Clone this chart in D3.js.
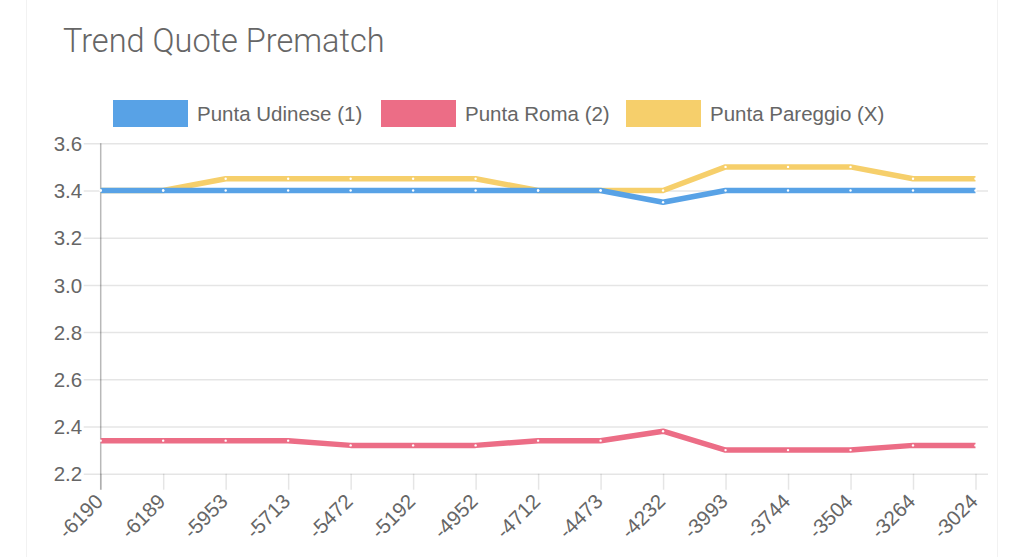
<!DOCTYPE html>
<html><head><meta charset="utf-8">
<script src="https://cdn.jsdelivr.net/npm/d3@7"></script>
<style>html,body{margin:0;padding:0;background:#fff;}svg{display:block;}</style>
</head><body>
<svg id="c" width="1024" height="557"></svg>
<script>
const categories = ["-6190","-6189","-5953","-5713","-5472","-5192","-4952","-4712","-4473","-4232","-3993","-3744","-3504","-3264","-3024"];
const udinese = [3.4,3.4,3.4,3.4,3.4,3.4,3.4,3.4,3.4,3.35,3.4,3.4,3.4,3.4,3.4];
const roma = [2.34,2.34,2.34,2.34,2.32,2.32,2.32,2.34,2.34,2.38,2.30,2.30,2.30,2.32,2.32];
const pareggio = [3.4,3.4,3.45,3.45,3.45,3.45,3.45,3.4,3.4,3.4,3.5,3.5,3.5,3.45,3.45];
const seriesNames = ["Punta Udinese (1)","Punta Roma (2)","Punta Pareggio (X)"];
const seriesColors = ["#58a2e6","#ec6d86","#f6cf6b"];
const yTicks = [2.2,2.4,2.6,2.8,3.0,3.2,3.4,3.6];
const title = "Trend Quote Prematch";

(function(){
const svg = d3.select("#c");
const font = "'Liberation Sans', Arial, sans-serif";
svg.append("rect").attr("x",26.5).attr("y",-2).attr("width",971).attr("height",570)
  .attr("fill","#fff").attr("stroke","#f2f2f2");

svg.append("text").attr("x",63).attr("y",52).text(title)
  .attr("font-family","Roboto, 'Liberation Sans', sans-serif").attr("font-weight",300)
  .attr("font-size",32.5).attr("fill","#666");

const pl = 100.7, pr = 975.5, gridRight = 988, pt = 143.3, pb = 473.7;
const x = d3.scalePoint().domain(categories).range([pl,pr]);
const y = d3.scaleLinear().domain([2.2,3.6]).range([pb,pt]);

const yAxis = d3.axisLeft(y).tickValues(yTicks).tickFormat(d3.format(".1f"))
  .tickSize(-(gridRight-pl)).tickSizeOuter(0);
const gy = svg.append("g").attr("transform",`translate(${pl},0)`).call(yAxis);
gy.select(".domain").remove();
gy.selectAll(".tick line").attr("x1",-17).attr("stroke","rgba(0,0,0,0.1)").attr("stroke-width",1.5);
gy.selectAll(".tick text").attr("font-family",font).attr("font-size",20.5).attr("fill","#666")
  .attr("x",-18.5).attr("dy","0.35em");

const xAxis = d3.axisBottom(x).tickSize(-(pb-pt)).tickSizeOuter(0).tickPadding(0);
const gx = svg.append("g").attr("transform",`translate(0,${pb})`).call(xAxis);
gx.select(".domain").remove();
gx.selectAll(".tick line").attr("y2",16).attr("stroke","rgba(0,0,0,0.1)").attr("stroke-width",1.5);
gx.selectAll(".tick text").attr("font-family",font).attr("font-size",20.5).attr("fill","#666")
  .attr("text-anchor","end").attr("dy",null).attr("y",0)
  .attr("transform","translate(3,29) rotate(-45)");

svg.append("line").attr("x1",pl).attr("x2",pl).attr("y1",pt).attr("y2",pb+16)
  .attr("stroke","rgba(0,0,0,0.28)").attr("stroke-width",1.5);

const data = [udinese, roma, pareggio];
const line = d3.line().x((d,i)=>x(categories[i])).y(d=>y(d)).curve(d3.curveLinear);
[2,1,0].forEach(k=>{
  svg.append("path").datum(data[k]).attr("d",line).attr("fill","none")
    .attr("stroke",seriesColors[k]).attr("stroke-width",5.5).attr("stroke-linejoin","round");
});
[2,1,0].forEach(k=>{
  svg.append("g").selectAll("circle").data(data[k]).join("circle")
    .attr("cx",(d,i)=>x(categories[i])).attr("cy",d=>y(d)).attr("r",1.2).attr("fill","#fff");
});

const legX = [113,381,626];
seriesNames.forEach((n,k)=>{
  svg.append("rect").attr("x",legX[k]).attr("y",100).attr("width",75).attr("height",27)
    .attr("fill",seriesColors[k]);
  svg.append("text").attr("x",legX[k]+84).attr("y",121).text(n)
    .attr("font-family",font).attr("font-size",20.5).attr("fill","#666");
});
})();
</script>
</body></html>
